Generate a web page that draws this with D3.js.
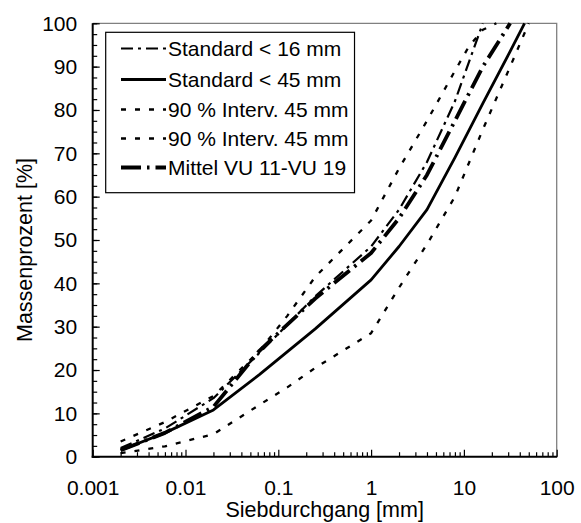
<!DOCTYPE html>
<html><head><meta charset="utf-8">
<script src="https://cdn.jsdelivr.net/npm/d3@7"></script>
<style>body{margin:0;background:#fff}svg{display:block}</style>
</head><body><svg id="c" width="581" height="523"></svg>
<script>
// ---- data ----
const seriesNames = ["Standard < 16 mm", "Standard < 45 mm", "90 % Interv. 45 mm", "90 % Interv. 45 mm", "Mittel VU 11-VU 19"];
const std16Size = [0.002, 0.006, 0.02, 0.063, 0.25, 1, 2, 4, 8, 16];
const std16Pct  = [2, 6.5, 13.5, 24, 37, 48.5, 57, 68, 82, 100];
const std45Size = [0.002, 0.006, 0.02, 0.063, 0.25, 1, 2, 4, 8, 16, 31.5, 45];
const std45Pct  = [1.5, 5.5, 10.8, 19, 29.5, 40.8, 48.5, 57, 69, 81.5, 93.5, 100];
const lowSize   = [0.002, 0.006, 0.02, 0.063, 0.125, 0.25, 0.5, 1, 2, 4, 8, 16, 31.5, 50];
const lowPct    = [0.8, 2.4, 5.2, 12, 16, 20.5, 24.5, 28.5, 39, 49, 60, 75.5, 90, 100];
const upSize    = [0.002, 0.006, 0.02, 0.063, 0.125, 0.25, 0.5, 1, 2, 4, 8, 11.2, 16, 22.4];
const upPct     = [3.5, 8, 14, 24.5, 32.5, 41.5, 48, 54.5, 66.5, 77.5, 89, 94.5, 98.5, 100];
const meanSize  = [0.002, 0.006, 0.02, 0.063, 0.25, 1, 2, 4, 8, 16, 31.5];
const meanPct   = [1.5, 5.5, 11.5, 24.5, 36.5, 47, 55, 65, 77.5, 90, 100];
const xTickLabels = ["0.001", "0.01", "0.1", "1", "10", "100"];
const yTickLabels = ["0", "10", "20", "30", "40", "50", "60", "70", "80", "90", "100"];

// ---- layout ----
const svg = d3.select("#c");
const L = 92.7, R = 556.7, T = 23.3, B = 456.7;
const FONT = "'Liberation Sans', Arial, sans-serif";
const FS = 21;
const x = d3.scaleLog().domain([0.001, 100]).range([L, R]);
const y = d3.scaleLinear().domain([0, 100]).range([B, T]);

svg.append("path").attr("d", `M${L},${T}H${R}V${B}`).attr("fill","none").attr("stroke","#808080").attr("stroke-width",1.3);

const yMinor = d3.range(0, 100.01, 2.5);
svg.append("g").attr("transform",`translate(${L},0)`)
  .call(d3.axisLeft(y).tickValues(yMinor).tickSizeInner(-4.5).tickSizeOuter(0).tickFormat(""))
  .call(g=>g.select(".domain").remove())
  .call(g=>g.selectAll("line").attr("stroke","#000").attr("stroke-width",1.2));
svg.append("g").attr("transform",`translate(${L},0)`)
  .call(d3.axisLeft(y).tickValues(yTickLabels.map(Number)).tickSizeInner(-7).tickSizeOuter(0).tickPadding(17).tickFormat((d,i)=>yTickLabels[i]))
  .call(g=>g.select(".domain").remove())
  .call(g=>g.selectAll("line").attr("stroke","#000").attr("stroke-width",1.2))
  .call(g=>g.selectAll("text").attr("font-family",FONT).attr("font-size",FS).attr("fill","#000").attr("x",-15.5));

const xMinor = [];
for (let e=-3;e<2;e++) for (let k=2;k<=9;k++) xMinor.push(k*Math.pow(10,e));
const xMajor = xTickLabels.map(Number);
svg.append("g").attr("transform",`translate(0,${B})`)
  .call(d3.axisBottom(x).tickValues(xMinor).tickSizeInner(-4.5).tickSizeOuter(0).tickFormat(""))
  .call(g=>g.select(".domain").remove())
  .call(g=>g.selectAll("line").attr("stroke","#000").attr("stroke-width",1.2));
svg.append("g").attr("transform",`translate(0,${B})`)
  .call(d3.axisBottom(x).tickValues(xMajor).tickSizeInner(-7).tickSizeOuter(0).tickPadding(0).tickFormat((d,i)=>xTickLabels[i]))
  .call(g=>g.select(".domain").remove())
  .call(g=>g.selectAll("line").attr("stroke","#000").attr("stroke-width",1.2))
  .call(g=>g.selectAll("text").attr("font-family",FONT).attr("font-size",FS).attr("fill","#000").attr("y",38.5).attr("dy",null));

svg.append("line").attr("x1",L).attr("x2",L).attr("y1",T).attr("y2",B+1).attr("stroke","#000").attr("stroke-width",2);
svg.append("line").attr("x1",L-1).attr("x2",R+0.5).attr("y1",B).attr("y2",B).attr("stroke","#000").attr("stroke-width",2);

svg.append("text").attr("x",(L+R)/2).attr("y",516.5).attr("text-anchor","middle")
  .attr("font-family",FONT).attr("font-size",21.5).text("Siebdurchgang [mm]");
svg.append("text").attr("transform",`translate(32,250) rotate(-90)`).attr("text-anchor","middle")
  .attr("font-family",FONT).attr("font-size",21.5).text("Massenprozent [%]");

const series = [
  {size: std16Size, pct: std16Pct, dash: "12,5,3,5", w: 2.2},
  {size: std45Size, pct: std45Pct, dash: null, w: 2.8},
  {size: lowSize, pct: lowPct, dash: "5,9", w: 2.3},
  {size: upSize, pct: upPct, dash: "5,9", w: 2.3},
  {size: meanSize, pct: meanPct, dash: "20,6,2.5,6", w: 3.8}
];
const line = d3.line().x(d=>x(d[0])).y(d=>y(d[1]));
const plot = svg.append("g");
series.forEach(s=>{
  plot.append("path").datum(s.size.map((d,i)=>[d, s.pct[i]]))
    .attr("d", line).attr("fill","none").attr("stroke","#000")
    .attr("stroke-width", s.w).attr("stroke-dasharray", s.dash)
    .attr("stroke-linejoin","round");
});

const lg = svg.append("g");
const rowYs = [48.5, 79.5, 109.5, 138.5, 167.5];
const texts = [];
seriesNames.forEach((n,i)=>{
  const yy = rowYs[i];
  lg.append("line").attr("x1",121).attr("x2",166).attr("y1",yy).attr("y2",yy)
    .attr("stroke","#000").attr("stroke-width",series[i].w).attr("stroke-dasharray",series[i].dash);
  texts.push(lg.append("text").attr("x",168).attr("y",yy).attr("dy","0.35em")
    .attr("font-family",FONT).attr("font-size",FS).text(n));
});
const maxR = d3.max(texts, t=>{const b=t.node().getBBox(); return b.x+b.width;});
lg.insert("rect",":first-child").attr("x",105.7).attr("y",32.3).attr("width",maxR+6-105.7).attr("height",160.4)
  .attr("fill","#fff").attr("stroke","#000").attr("stroke-width",1.2);
</script></body></html>
